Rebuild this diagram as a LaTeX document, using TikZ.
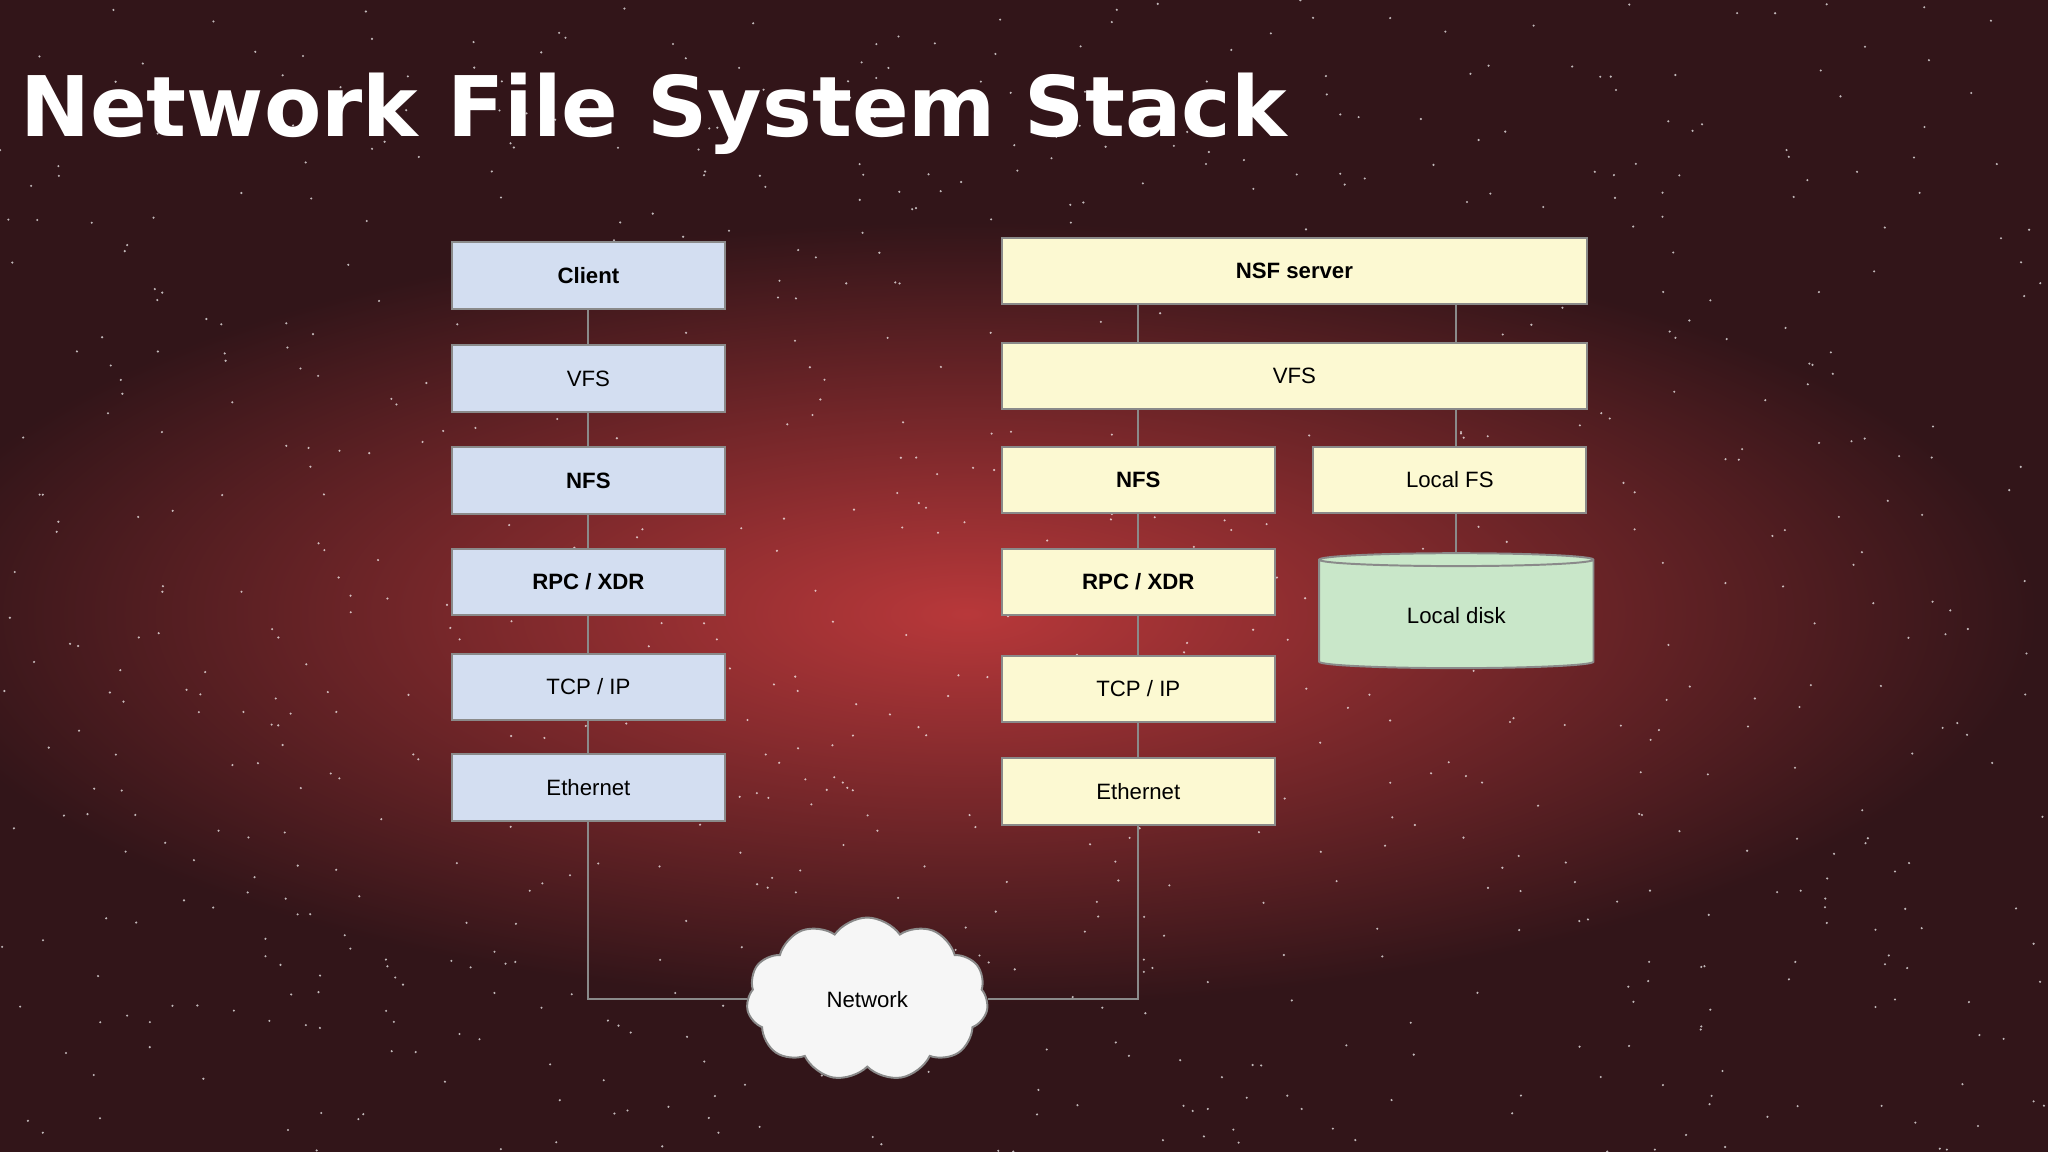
\documentclass[tikz,border=0pt]{standalone}
\usepackage{fontspec}
\setmainfont{Liberation Sans}
\newfontfamily\titlefont{DejaVu Sans}
\usetikzlibrary{shapes.geometric,shapes.symbols}
\pgfdeclarelayer{bgl}\pgfdeclarelayer{lines}
\pgfsetlayers{bgl,lines,main}
\definecolor{cli}{HTML}{D3DEF1}
\definecolor{srv}{HTML}{FCF9D2}
\definecolor{dsk}{HTML}{C9E7C9}
\definecolor{bord}{HTML}{8A8A8A}
\definecolor{bg}{HTML}{321519}
\definecolor{glow}{HTML}{B8383A}
\tikzset{
  box/.style={draw=bord,line width=1.5pt,minimum height=51pt,inner sep=0pt,font=\fontsize{17}{20}\selectfont},
  cbox/.style={box,fill=cli,minimum width=209pt},
  sbox/.style={box,fill=srv,minimum width=209pt},
  wbox/.style={box,fill=srv,minimum width=448pt},
  conn/.style={draw=bord,line width=1.5pt}
}
\begin{document}
\begin{tikzpicture}[x=1pt,y=-1pt]
\useasboundingbox (0,0) rectangle (1568,882);
\begin{pgfonlayer}{bgl}
\fill[bg] (0,0) rectangle (1568,882);
\shade[inner color=glow,outer color=bg] (740,470) ellipse (820 and 300);
\pgfmathsetseed{7}
\foreach \i in {1,...,900}{
  \pgfmathsetmacro\sx{rnd*1568}\pgfmathsetmacro\sy{rnd*882}
  \fill[white,opacity=0.7] (\sx,\sy) circle (0.9);
}
\end{pgfonlayer}
\node[anchor=west,text=white,font=\titlefont\bfseries\fontsize{64}{72}\selectfont] (title) at (12,87) {Network File System Stack};
% client
\node[cbox] (cc) at (450.5,211) {\bfseries Client};
\node[cbox] (cv) at (450.5,290) {VFS};
\node[cbox] (cn) at (450.5,368) {\bfseries NFS};
\node[cbox] (cr) at (450.5,445.5) {\bfseries RPC / XDR};
\node[cbox] (ct) at (450.5,526) {TCP / IP};
\node[cbox] (ce) at (450.5,603) {Ethernet};
% server
\node[wbox] (ss) at (991,207.5) {\bfseries NSF server};
\node[wbox] (sv) at (991,288) {VFS};
\node[sbox] (sn) at (871.5,367.5) {\bfseries NFS};
\node[sbox] (sl) at (1110,367.5) {Local FS};
\node[sbox] (sr) at (871.5,445.5) {\bfseries RPC / XDR};
\node[sbox] (st) at (871.5,527.5) {TCP / IP};
\node[sbox] (se) at (871.5,606) {Ethernet};
\node[cylinder,shape border rotate=90,aspect=0.12,draw=bord,line width=1.5pt,fill=dsk,minimum width=210pt,minimum height=88pt,font=\fontsize{17}{20}\selectfont] (disk) at (1115,471) {\raisebox{-6pt}{Local disk}};
\node[cloud,cloud puffs=11,cloud puff arc=110,aspect=1.4,draw=bord,line width=1.5pt,fill=white!93!gray,minimum width=185pt,minimum height=125pt,font=\fontsize{17}{20}\selectfont] (net) at (664,765) {Network};
% connectors
\begin{pgfonlayer}{lines}
\foreach \a/\b in {cc/cv,cv/cn,cn/cr,cr/ct,ct/ce,sn/sr,sr/st,st/se}{\path[conn] (\a.south) -- (\b.north);}
\path[conn] (ss.south -| sn.north) -- (sv.north -| sn.north);
\path[conn] (sv.south -| sn.north) -- (sn.north);
\path[conn] (ss.south -| disk.north) -- (disk.north);
\coordinate (cl) at (ce.south |- net.west);
\coordinate (sr2) at (se.south |- net.east);
\path[conn] (ce.south) -- (cl) -- (net.west);
\path[conn] (se.south) -- (sr2) -- (net.east);
\end{pgfonlayer}
\end{tikzpicture}
\end{document}
